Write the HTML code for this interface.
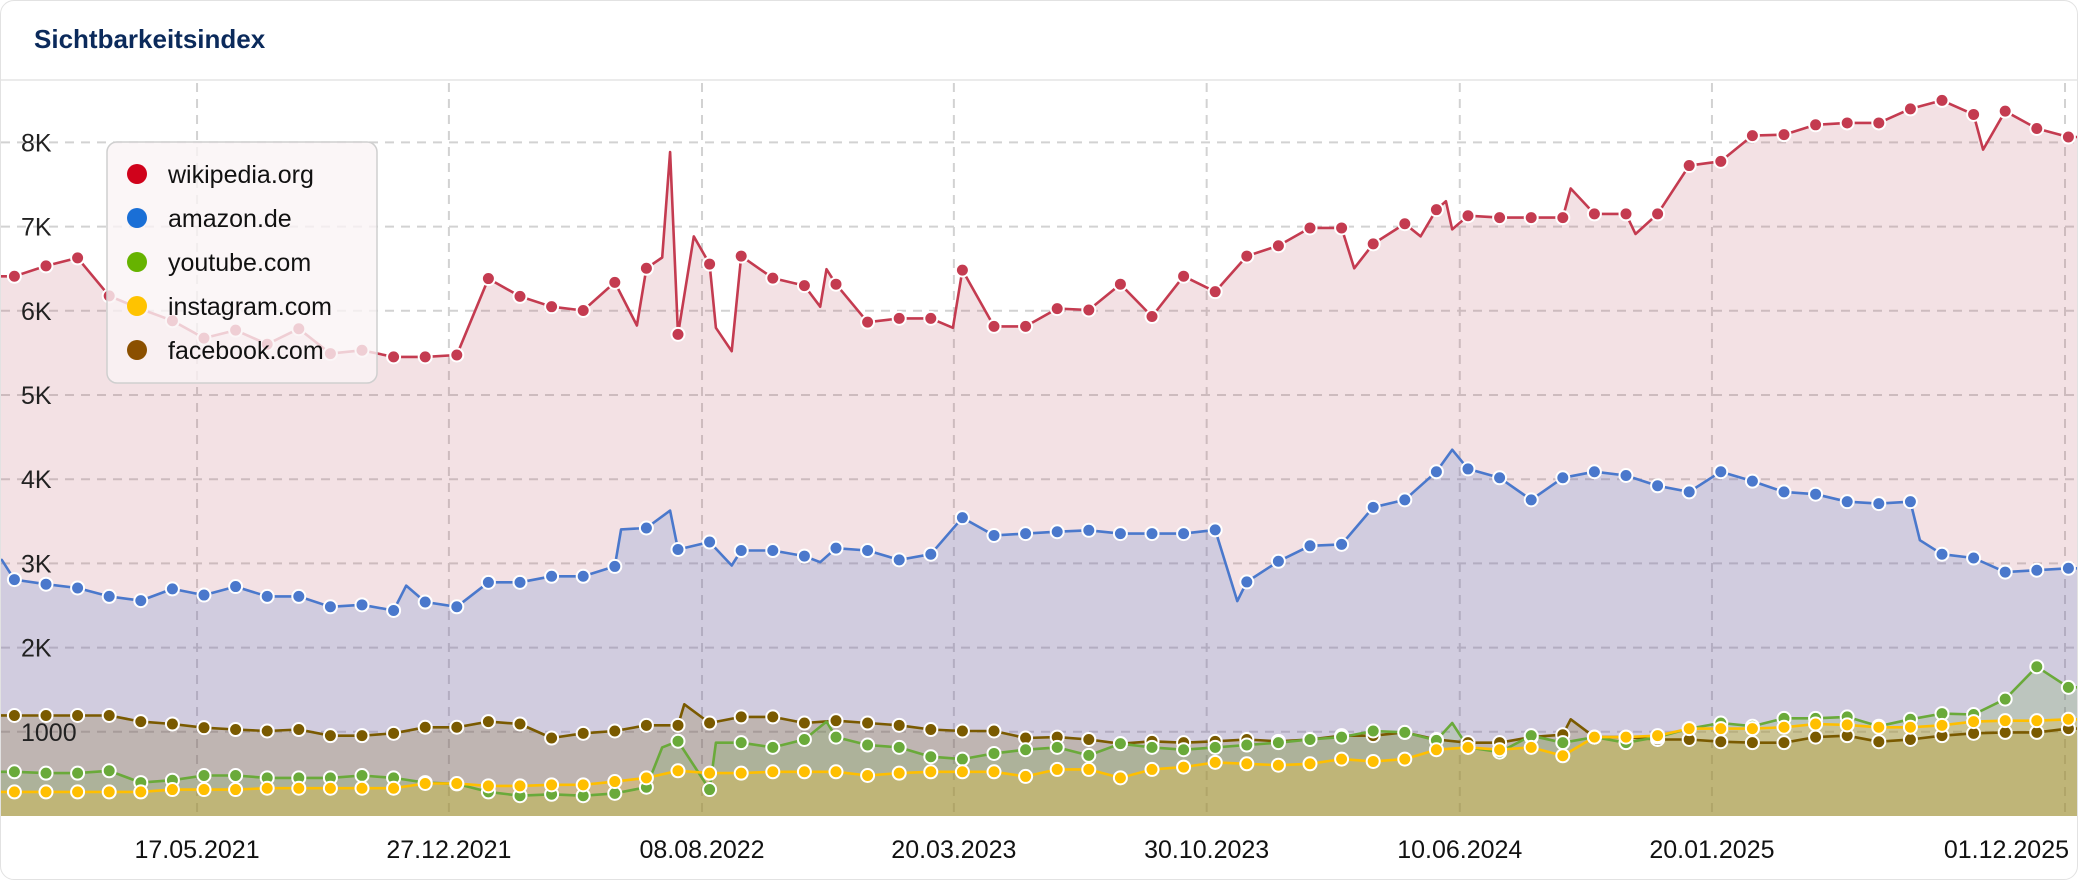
<!DOCTYPE html>
<html><head><meta charset="utf-8">
<style>
html,body{margin:0;padding:0;background:#fff;}
body{width:2078px;height:880px;overflow:hidden;font-family:"Liberation Sans",sans-serif;}
#card{position:absolute;left:0;top:0;width:2076px;height:878px;border:1px solid #e2e2e2;border-radius:14px;overflow:hidden;}
#title{position:absolute;left:33px;top:23px;font-size:26px;font-weight:bold;color:#0b2a5b;}
#hdr{position:absolute;left:0;top:78px;width:2078px;height:2px;background:#ebebeb;}
svg{position:absolute;left:0;top:0;}
</style></head>
<body>
<div id="card">
<div id="title">Sichtbarkeitsindex</div>
<div id="hdr"></div>
<svg id="chart" width="2078" height="880"></svg>
</div>
<script>
const yTicks=[1000,2000,3000,4000,5000,6000,7000,8000];
const yTickLabels=["1000","2K","3K","4K","5K","6K","7K","8K"];
const xTickIdx=[5.78,13.75,21.76,29.73,37.73,45.74,53.72,65];
const xTickLabels=["17.05.2021","27.12.2021","08.08.2022","20.03.2023","30.10.2023","10.06.2024","20.01.2025","01.12.2025"];
const seriesNames=["wikipedia.org","amazon.de","youtube.com","instagram.com","facebook.com"];
const wikiVals=[6410,6533,6628,6177,6021,5882,5676,5770,5603,5787,5492,5531,5453,5453,5475,6383,6171,6049,6004,6338,6505,5720,6555,6650,6388,6299,6316,5865,5910,5910,6483,5815,5815,6026,6010,6316,5932,6411,6227,6650,6773,6984,6984,6795,7034,7201,7129,7107,7107,7107,7151,7151,7151,7725,7775,8081,8092,8209,8231,8231,8398,8499,8332,8371,8165,8064];
const wikiExtraIdx=[19.7,20.5,20.75,21.5,22.2,22.7,25.5,25.7,29.7,42.4,44.5,45.3,45.5,49.25,51.3,62.3];
const wikiExtraVals=[5826,6633,7886,6884,5798,5520,6049,6494,5798,6505,6884,7302,6967,7452,6912,7914];
const amazonVals=[2808,2753,2708,2608,2558,2697,2624,2725,2608,2608,2485,2508,2441,2541,2485,2775,2775,2847,2847,2964,3421,3165,3254,3153,3153,3087,3181,3153,3042,3109,3543,3332,3354,3376,3393,3354,3354,3354,3398,2780,3025,3209,3226,3666,3755,4089,4122,4017,3755,4017,4089,4044,3922,3849,4089,3977,3849,3822,3733,3710,3733,3109,3064,2897,2919,2942];
const amazonExtraIdx=[-0.4,12.4,19.2,20.75,22.7,25.5,38.7,45.5,60.3];
const amazonExtraVals=[3042,2736,3404,3627,2975,3014,2552,4350,3276];
const fbVals=[1194,1194,1194,1194,1121,1093,1049,1027,1010,1027,954,954,982,1054,1054,1121,1093,926,982,1010,1077,1077,1104,1177,1177,1104,1132,1104,1077,1027,1010,1010,926,937,909,859,887,871,887,909,887,909,954,954,993,909,871,871,937,965,937,937,909,909,882,871,871,937,954,882,909,954,982,993,993,1038];
const fbExtraIdx=[21.2,49.25];
const fbExtraVals=[1327,1149];
const ytVals=[525,509,509,537,397,425,481,481,453,453,453,481,453,397,381,286,241,258,241,269,342,888,314,871,815,909,937,843,815,704,676,743,787,815,720,859,815,787,815,843,871,909,937,1010,993,898,815,759,954,871,937,871,937,1038,1104,1066,1160,1160,1177,1066,1149,1216,1205,1388,1773,1528];
const ytExtraIdx=[20.5,22.2,25.7,45.5];
const ytExtraVals=[815,871,1121,1104];
const igVals=[286,286,286,286,286,314,314,314,330,330,330,330,330,386,386,358,358,370,370,409,453,537,509,509,525,525,525,481,509,525,525,525,470,553,553,453,553,581,637,620,603,620,676,648,676,787,815,787,815,715,937,937,954,1038,1038,1038,1054,1093,1082,1054,1054,1077,1121,1132,1132,1149];
const igExtraIdx=[];
const igExtraVals=[];

const NS="http://www.w3.org/2000/svg";
const svg=document.getElementById('chart');
const BASE=815, PXV=0.0842;
function yScale(v){return BASE-v*PXV;}
function xScale(i){return 13.4+31.6*i;}
function mk(tag,attrs,parent){const e=document.createElementNS(NS,tag);for(const k in attrs)e.setAttribute(k,attrs[k]);(parent||svg).appendChild(e);return e;}

const grid=mk('g',{});


yTicks.forEach((t,k)=>{
  const l=mk('line',{x1:0,x2:2078,y1:yScale(t),y2:yScale(t),stroke:'#d2d2d2','stroke-width':2,'stroke-dasharray':'9 7'},grid);
  
  
});
xTickIdx.forEach((t,k)=>{
  const x=k===xTickIdx.length-1?2064:xScale(t);
  const l=mk('line',{x1:x,x2:x,y1:82,y2:BASE,stroke:'#d2d2d2','stroke-width':2,'stroke-dasharray':'9 7'},grid);
  
  
});

const series=[
 {name:'wikipedia',vals:wikiVals,ei:wikiExtraIdx,ev:wikiExtraVals,line:'#c43b50',fill:'rgba(185,75,95,0.17)'},
 {name:'amazon',vals:amazonVals,ei:amazonExtraIdx,ev:amazonExtraVals,line:'#4a78cc',fill:'rgba(74,120,204,0.2)'},
 {name:'facebook',vals:fbVals,ei:fbExtraIdx,ev:fbExtraVals,line:'#7a5a00',fill:'rgba(122,90,0,0.2)'},
 {name:'youtube',vals:ytVals,ei:ytExtraIdx,ev:ytExtraVals,line:'#6aaa3a',fill:'rgba(106,170,58,0.2)'},
 {name:'instagram',vals:igVals,ei:igExtraIdx,ev:igExtraVals,line:'#ffbf00',fill:'rgba(255,191,0,0.22)'}
];
series.forEach(s=>{
  const pts=s.vals.map((v,i)=>[xScale(i),yScale(v)]);
  s.ei.forEach((i,k)=>pts.push([xScale(i),yScale(s.ev[k])]));
  pts.sort((a,b)=>a[0]-b[0]);
  const first=pts[0], last=pts[pts.length-1];
  let d='M0,'+first[1]+' '+pts.map(p=>'L'+p[0].toFixed(1)+','+p[1].toFixed(1)).join(' ')+' L2078,'+last[1];
  const area=mk('path',{d:d+' L2078,'+BASE+' L0,'+BASE+' Z',fill:s.fill,stroke:'none'});
  
  
  s.d=d;
});
series.forEach(s=>{
  const ln=mk('path',{d:s.d,fill:'none',stroke:s.line,'stroke-width':2.6,'stroke-linejoin':'round'});
  
  
});
series.forEach(s=>{
  s.vals.forEach((v,i)=>{
    const c=mk('circle',{cx:xScale(i),cy:yScale(v),r:6.5,fill:s.line,stroke:'#fff','stroke-width':2});
    
    
  });
});
yTicks.forEach((t,k)=>{
  const tx=mk('text',{x:20,y:yScale(t)+9,'font-size':25,fill:'#222','font-family':'Liberation Sans, sans-serif'});
  tx.textContent=yTickLabels[k];
  
  
});
xTickIdx.forEach((t,k)=>{
  const lastT=k===xTickIdx.length-1;
  const tx=mk('text',{x:lastT?2068:xScale(t),y:857,'font-size':25,fill:'#111','text-anchor':lastT?'end':'middle','font-family':'Liberation Sans, sans-serif'});
  tx.textContent=xTickLabels[k];
  
  
});
const legColors=['#d0021b','#1a6fd6','#66b300','#ffc300','#8b5000'];
const leg=mk('g',{});


const box=mk('rect',{x:106,y:141,width:270,height:241,rx:10,fill:'rgba(250,244,245,0.8)',stroke:'#cfcfcf','stroke-width':1.5},leg);


seriesNames.forEach((n,k)=>{
  const cy=173+44*k;
  const g=mk('g',{},leg);
  
  
  const c=mk('circle',{cx:136,cy:cy,r:10,fill:legColors[k]},g);
  
  
  const tx=mk('text',{x:167,y:cy+9,'font-size':25,fill:'#111','font-family':'Liberation Sans, sans-serif'},g);
  tx.textContent=n;
  
  
});
</script>
</body></html>
